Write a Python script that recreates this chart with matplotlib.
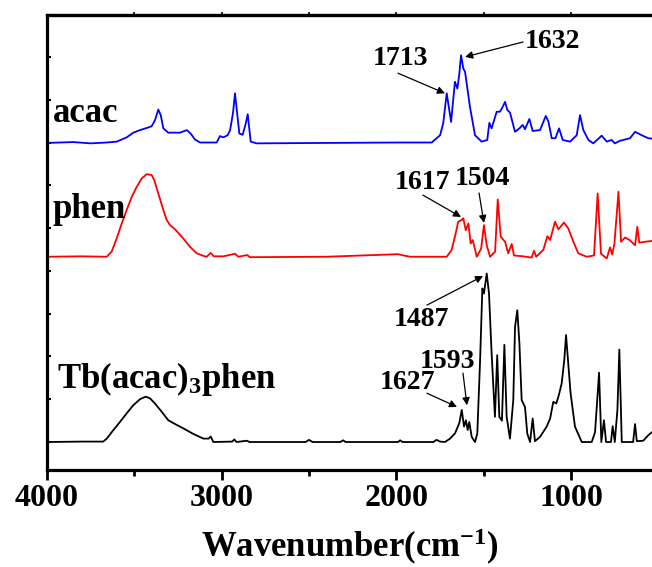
import matplotlib
matplotlib.use('Agg')
import matplotlib.pyplot as plt

plt.rcParams['font.family'] = ['Liberation Serif', 'DejaVu Serif']
plt.rcParams['font.weight'] = 'bold'
plt.rcParams['mathtext.fontset'] = 'custom'
plt.rcParams['mathtext.rm'] = 'Liberation Serif:bold'
plt.rcParams['mathtext.bf'] = 'Liberation Serif:bold'
plt.rcParams['mathtext.it'] = 'Liberation Serif:bold'

# acac trace (offset baseline ~7)
acac_w = [4000, 3850, 3750, 3658, 3601, 3544, 3506, 3468, 3429, 3401,
          3382, 3363, 3349, 3334, 3306, 3239, 3200, 3178, 3153, 3124,
          3029, 3010, 2991, 2966, 2952, 2935, 2924, 2912, 2899, 2880,
          2862, 2851, 2834, 2800, 2400, 1979, 1798, 1750, 1732, 1712,
          1687, 1665, 1651, 1640, 1630, 1617, 1607, 1579, 1550, 1512,
          1480, 1468, 1455, 1426, 1407, 1397, 1378, 1365, 1350, 1321,
          1296, 1277, 1264, 1239, 1220, 1178, 1145, 1130, 1111, 1090,
          1069, 1048, 1006, 968, 949, 930, 901, 873, 825, 796,
          768, 750, 720, 663, 634, 596, 558, 537]
acac_v = [6.99, 7.01, 6.98, 7.00, 7.02, 7.12, 7.23, 7.29, 7.34, 7.38,
          7.52, 7.77, 7.64, 7.33, 7.23, 7.23, 7.29, 7.21, 7.07, 7.00,
          7.00, 7.15, 7.12, 7.17, 7.29, 7.70, 8.15, 7.70, 7.21, 7.18,
          7.45, 7.66, 7.02, 6.98, 6.99, 7.00, 7.00, 7.17, 7.45, 8.15,
          7.48, 8.42, 8.26, 8.60, 9.04, 8.73, 8.65, 7.83, 7.17, 7.02,
          7.06, 7.46, 7.33, 7.72, 7.72, 7.79, 7.95, 7.76, 7.70, 7.25,
          7.33, 7.41, 7.31, 7.55, 7.27, 7.29, 7.62, 7.49, 7.10, 7.10,
          7.33, 7.06, 7.02, 7.17, 7.64, 7.29, 7.06, 6.98, 7.16, 7.02,
          7.06, 6.98, 7.04, 7.10, 7.25, 7.17, 7.10, 7.09]

# phen trace (offset baseline ~4.33)
phen_w = [4000, 3800, 3658, 3630, 3601, 3572, 3544, 3515, 3487, 3458,
          3429, 3401, 3386, 3363, 3334, 3315, 3296, 3267, 3229, 3181,
          3143, 3105, 3086, 3063, 3045, 2990, 2924, 2905, 2853, 2840,
          2400, 1990, 1960, 1920, 1712, 1684, 1665, 1646, 1626, 1617,
          1603, 1588, 1575, 1563, 1540, 1515, 1499, 1483, 1464, 1435,
          1420, 1403, 1378, 1360, 1340, 1327, 1274, 1226, 1212, 1200,
          1159, 1136, 1120, 1092, 1073, 1041, 1016, 987, 959, 911,
          869, 848, 829, 796, 777, 765, 752, 729, 714, 691,
          665, 634, 621, 610, 577, 537]
phen_v = [4.33, 4.34, 4.33, 4.45, 4.76, 5.11, 5.42, 5.73, 5.96, 6.16,
          6.26, 6.24, 6.12, 5.81, 5.42, 5.19, 5.07, 4.97, 4.80, 4.56,
          4.41, 4.35, 4.33, 4.42, 4.34, 4.34, 4.40, 4.33, 4.37, 4.32,
          4.33, 4.39, 4.36, 4.33, 4.33, 4.49, 4.80, 5.15, 5.19, 5.23,
          4.95, 5.11, 4.64, 4.72, 4.33, 4.52, 5.07, 4.60, 4.33, 4.45,
          5.67, 4.80, 4.68, 4.41, 4.63, 4.36, 4.34, 4.31, 4.47, 4.33,
          4.49, 4.81, 4.72, 5.15, 4.97, 5.13, 4.99, 4.68, 4.41, 4.33,
          4.36, 5.81, 4.40, 4.29, 4.55, 4.38, 4.64, 5.85, 4.68, 4.78,
          4.72, 4.60, 5.03, 4.66, 4.68, 4.70]

# Tb(acac)3phen trace (baseline 0)
tb_w = [4000, 3800, 3678, 3658, 3620, 3582, 3544, 3506, 3468, 3435,
        3410, 3382, 3344, 3306, 3267, 3220, 3163, 3105, 3075, 3063,
        3048, 2940, 2928, 2915, 2857, 2840, 2520, 2500, 2480, 2320,
        2306, 2290, 1990, 1979, 1965, 1789, 1770, 1750, 1722, 1693,
        1665, 1640, 1626, 1613, 1602, 1592, 1583, 1569, 1550, 1537,
        1521, 1508, 1499, 1483, 1470, 1455, 1436, 1423, 1411, 1396,
        1382, 1369, 1350, 1331, 1321, 1308, 1296, 1283, 1264, 1251,
        1235, 1220, 1207, 1178, 1140, 1120, 1102, 1085, 1070, 1054,
        1039, 1029, 1018, 1003, 978, 939, 882, 863, 840, 827,
        812, 800, 772, 762, 750, 735, 724, 710, 663, 645,
        634, 624, 587, 558, 537]
tb_v = [0.00, 0.01, 0.01, 0.08, 0.28, 0.47, 0.67, 0.86, 1.00, 1.06,
        1.02, 0.90, 0.71, 0.51, 0.42, 0.32, 0.19, 0.08, 0.08, 0.13,
        0.00, 0.01, 0.06, 0.00, 0.03, 0.00, 0.00, 0.05, 0.00, 0.00,
        0.04, 0.00, 0.00, 0.04, 0.00, 0.00, 0.05, 0.01, 0.00, 0.08,
        0.20, 0.44, 0.75, 0.36, 0.51, 0.28, 0.47, 0.12, 0.00, 0.20,
        1.91, 3.59, 3.47, 3.94, 3.47, 2.07, 0.59, 2.03, 0.59, 0.50,
        2.27, 0.59, 0.08, 0.98, 2.69, 3.08, 2.31, 0.98, 0.82, 0.20,
        0.00, 0.55, 0.02, 0.12, 0.36, 0.55, 0.94, 0.90, 1.10, 1.37,
        1.92, 2.50, 1.92, 1.14, 0.36, 0.00, 0.00, 0.23, 1.62, 0.00,
        0.51, 0.00, 0.00, 0.37, 0.00, 0.75, 2.16, 0.00, 0.00, 0.00,
        0.42, 0.02, 0.03, 0.16, 0.23]

# peak annotations: label and the point on the trace the arrow hits
ann_labels = ['1713', '1632', '1617', '1504', '1487', '1593', '1627']
ann_peak_w = [1722, 1607, 1630, 1499, 1504, 1596, 1653]
ann_peak_v = [8.15, 9.00, 5.26, 5.12, 3.88, 0.86, 0.82]

# layout for the annotations (text centre, arrow tail)
ann_text_pos = [(1974, 8.97), (1104, 9.35), (1848, 6.07), (1510, 6.17),
                (1854, 2.87), (1710, 1.89), (1934, 1.38)]
ann_tail_pos = [(1991, 8.62), (1275, 9.35), (1848, 5.77), (1527, 5.82),
                (1825, 3.20), (1619, 1.61), (1825, 1.14)]

fig = plt.figure(figsize=(6.52, 5.67), dpi=100)
ax = fig.add_axes([47 / 652, 97 / 567, 1 - 47 / 652, 455 / 567])

ax.plot(acac_w, acac_v, color='#0000ff', lw=1.3)
ax.plot(phen_w, phen_v, color='#ff0000', lw=1.3)
ax.plot(tb_w, tb_v, color='black', lw=1.3)

ax.text(3966, 7.48, 'acac', fontsize=25, fontweight='bold', ha='left', va='baseline')
ax.text(3966, 5.23, 'phen', fontsize=25, fontweight='bold', ha='left', va='baseline')
ax.text(3943, 1.26, r'Tb(acac)$_{\mathbf{3}}$phen', fontsize=25, fontweight='bold',
        ha='left', va='baseline')

for lab, pw, pv, tp, tl in zip(ann_labels, ann_peak_w, ann_peak_v, ann_text_pos, ann_tail_pos):
    ax.text(tp[0], tp[1], lab, fontsize=20, fontweight='bold', ha='center', va='center')
    ax.annotate('', xy=(pw, pv), xytext=tl,
                arrowprops=dict(arrowstyle='-|>', color='black', lw=0.9,
                                mutation_scale=11, shrinkA=0, shrinkB=0))

ax.set_xlim(4000, 537)
ax.set_ylim(-0.654, 9.98)
ax.set_xticks([4000, 3000, 2000, 1000])
ax.set_xticks([3500, 2500, 1500], minor=True)
ax.set_yticks(range(0, 10))
ax.set_yticklabels([])

for side in ['left', 'bottom', 'top']:
    ax.spines[side].set_linewidth(2.3)
ax.spines['right'].set_visible(False)

ax.tick_params(axis='x', which='major', direction='out', length=7, width=2, pad=3,
               labelsize=23, top=False)
ax.tick_params(axis='x', which='minor', direction='out', length=4, width=2, top=False)
ax.tick_params(axis='y', which='major', direction='in', length=3, width=1.5, right=False)
for lbl in ax.get_xticklabels():
    lbl.set_fontweight('bold')

sec = ax.secondary_xaxis('top')
sec.set_xticks([3500, 3000, 2500, 2000, 1500, 1000])
sec.tick_params(direction='out', length=2, width=1.2, labeltop=False)
sec.spines['top'].set_linewidth(2.3)

ax.set_xlabel(r'Wavenumber(cm$^{\mathbf{-1}}$)', fontsize=25, fontweight='bold', labelpad=10)

fig.savefig('out.png', dpi=100)
